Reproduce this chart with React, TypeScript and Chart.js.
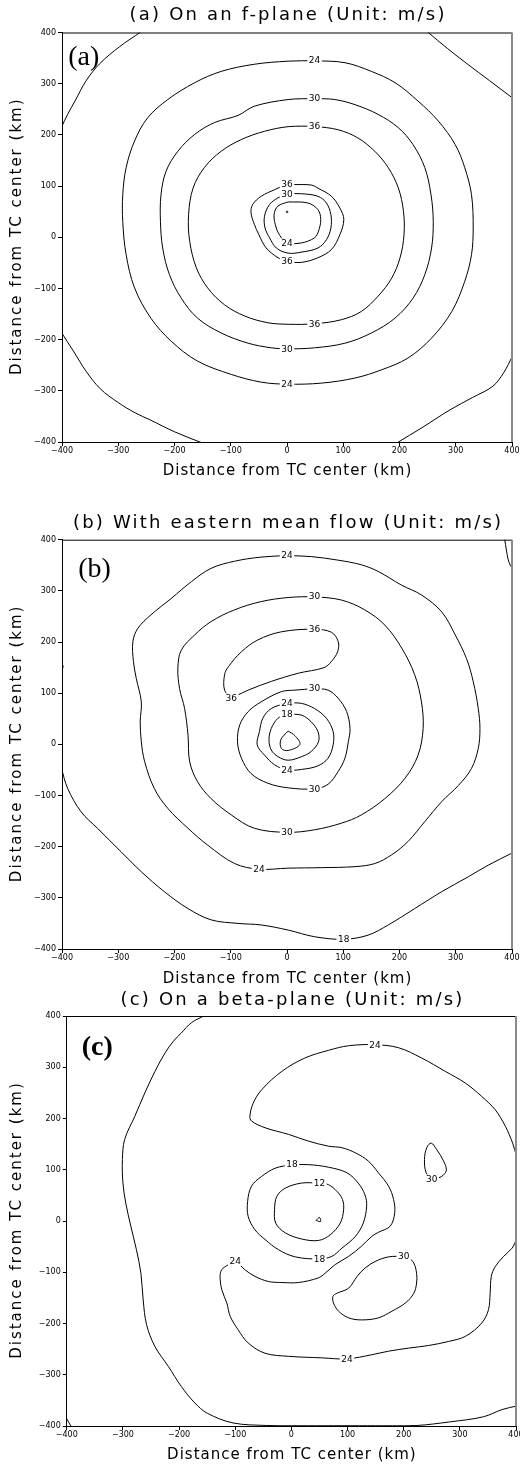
import React, { useEffect, useRef } from 'react';
import { Chart, registerables } from 'chart.js';
Chart.register(...registerables);

type P = [number, number];
type L = [number, number, string];

// ---------- shared text / ticks ----------
const TICKS = [-400, -300, -200, -100, 0, 100, 200, 300, 400];
const AXIS_TITLE = 'Distance from TC center (km)';
const TITLE_A = '(a) On an f-plane (Unit: m/s)';
const TITLE_B = '(b) With eastern mean flow (Unit: m/s)';
const TITLE_C = '(c) On a beta-plane (Unit: m/s)';

// ---------- panel (a) contours (km) ----------
const A_18_TL: P[] = [[-260, 401], [-298, 372], [-333, 339], [-357, 306], [-376, 268], [-390, 240], [-401, 215]];
const A_18_TR: P[] = [[250, 401], [285, 369], [320, 339], [360, 306], [401, 272]];
const A_18_BL: P[] = [[-401, -186], [-380, -222], [-357, -262], [-332, -296], [-300, -323], [-270, -343], [-243, -357], [-200, -380], [-155, -400], [-140, -406]];
const A_18_BR: P[] = [[195, -402], [240, -372], [290, -337], [330, -313], [366, -291], [385, -265], [401, -232]];
const A_24: P[] = [[49, 345], [2, 344], [-58, 338], [-117, 324], [-164, 302], [-212, 269], [-248, 233], [-271, 188], [-286, 136], [-292, 83], [-292, 31], [-286, -34], [-271, -99], [-242, -158], [-206, -203], [-159, -242], [-99, -268], [-46, -283], [0, -287], [61, -285], [121, -275], [168, -259], [215, -236], [257, -197], [293, -145], [316, -86], [328, -34], [331, 18], [328, 83], [316, 136], [299, 181], [269, 227], [233, 266], [192, 302], [150, 324], [103, 341]];
const A_30: P[] = [[49, 271], [2, 269], [-58, 256], [-87, 238], [-129, 224], [-164, 201], [-194, 168], [-215, 129], [-224, 83], [-225, 31], [-221, -21], [-209, -73], [-188, -119], [-159, -158], [-117, -187], [-69, -207], [-28, -216], [0, -218], [49, -216], [103, -207], [150, -187], [192, -158], [224, -119], [245, -73], [257, -21], [260, 31], [256, 83], [245, 136], [224, 181], [198, 214], [162, 240], [121, 259], [85, 269]];
const A_36: P[] = [[49, 217], [2, 216], [-40, 207], [-81, 191], [-117, 168], [-147, 136], [-167, 96], [-175, 44], [-173, -8], [-161, -60], [-141, -99], [-111, -132], [-75, -154], [-34, -167], [2, -170], [49, -169], [97, -161], [132, -145], [162, -115], [186, -80], [201, -40], [208, 5], [207, 51], [198, 96], [180, 136], [156, 168], [126, 194], [91, 210]];
const A_36_IN: P[] = [[0, 104], [14, 103], [43, 102], [55, 96], [79, 80], [94, 57], [101, 35], [94, 5], [79, -24], [55, -40], [26, -49], [0, -47], [-16, -40], [-37, -21], [-50, 5], [-58, 25], [-64, 48], [-61, 64], [-46, 80], [-22, 93]];
const A_30_IN: P[] = [[0, 85], [26, 85], [55, 80], [70, 67], [78, 44], [78, 18], [70, -5], [55, -21], [26, -29], [2, -31], [-19, -21], [-31, -1], [-39, 18], [-40, 41], [-31, 64], [-16, 77]];
const A_24_IN: P[] = [[2, 69], [37, 67], [55, 54], [60, 35], [56, 12], [49, -1], [26, -11], [0, -11], [-10, -1], [-19, 18], [-23, 44], [-16, 61]];
const A_DOT: P[] = [[-1.5, 50], [0.5, 51.5], [1.5, 49], [-0.5, 48]];
const A_LABELS: L[] = [[49, 345, '24'], [0, -287, '24'], [49, 271, '30'], [0, -218, '30'], [49, 217, '36'], [49, -169, '36'], [0, 104, '36'], [0, -47, '36'], [0, 85, '30'], [0, -11, '24']];

// ---------- panel (b) contours (km) ----------
const B_TR: P[] = [[387, 401], [390, 380], [393, 362], [397, 350], [401, 344]];
const B_L: P[] = [[-401, 160], [-398, 152], [-401, 144]];
const B_18: P[] = [[-401, -47], [-390, -86], [-366, -132], [-337, -164], [-295, -210], [-259, -249], [-218, -288], [-176, -321], [-135, -343], [-87, -350], [-46, -353], [2, -363], [49, -376], [101, -381], [144, -373], [180, -353], [227, -321], [275, -288], [322, -259], [358, -236], [401, -212]];
const B_24: P[] = [[0, 369], [-46, 366], [-93, 358], [-135, 344], [-170, 318], [-206, 285], [-242, 253], [-265, 227], [-274, 201], [-273, 162], [-268, 129], [-259, 83], [-261, 44], [-259, 5], [-253, -34], [-236, -86], [-212, -125], [-176, -164], [-141, -197], [-93, -233], [-50, -244], [2, -242], [61, -241], [121, -239], [156, -233], [186, -216], [215, -190], [245, -151], [275, -112], [305, -80], [328, -47], [340, -8], [343, 31], [340, 70], [331, 123], [319, 168], [299, 214], [275, 259], [239, 292], [204, 311], [162, 338], [132, 351], [91, 360], [43, 367]];
const B_30: P[] = [[49, 289], [2, 287], [-46, 279], [-93, 263], [-135, 240], [-164, 214], [-188, 184], [-194, 149], [-191, 109], [-182, 70], [-176, 18], [-173, -34], [-159, -73], [-135, -106], [-99, -138], [-58, -164], [0, -172], [49, -167], [97, -154], [132, -138], [174, -106], [210, -66], [233, -21], [242, 31], [239, 83], [227, 136], [204, 188], [174, 233], [138, 263], [97, 282]];
const B_36: P[] = [[-99, 91], [-111, 106], [-111, 136], [-104, 152], [-81, 181], [-52, 204], [-10, 220], [49, 225], [79, 219], [91, 201], [90, 181], [79, 162], [66, 150], [20, 139], [-28, 123], [-69, 106], [-90, 95]];
const B_30_IN: P[] = [[49, 109], [14, 106], [-10, 103], [-46, 83], [-69, 64], [-84, 38], [-88, 5], [-81, -27], [-64, -57], [-34, -76], [2, -85], [49, -87], [73, -78], [91, -53], [103, -27], [109, 5], [112, 31], [106, 64], [91, 90], [73, 106]];
const B_24_IN: P[] = [[0, 81], [26, 80], [49, 70], [70, 51], [82, 25], [82, -1], [73, -27], [55, -42], [26, -49], [0, -50], [-22, -40], [-40, -21], [-53, -1], [-49, 25], [-43, 51], [-28, 70]];
const B_18_IN: P[] = [[0, 59], [26, 57], [43, 44], [55, 25], [56, 5], [43, -14], [26, -24], [2, -31], [-16, -24], [-28, -11], [-32, 9], [-28, 31], [-16, 51]];
const B_12_IN: P[] = [[2, 26], [14, 17], [23, 0], [2, -12], [-10, -8], [-11, 9]];
const B_LABELS: L[] = [[0, 369, '24'], [-50, -244, '24'], [49, 289, '30'], [0, -172, '30'], [49, 225, '36'], [-99, 91, '36'], [49, 109, '30'], [49, -87, '30'], [0, 81, '24'], [0, -50, '24'], [0, 59, '18'], [101, -381, '18']];

// ---------- panel (c) contours (km) ----------
const C_OUT: P[] = [[-154, 401], [-178, 387], [-196, 367], [-210, 351], [-225, 328], [-243, 292], [-261, 250], [-279, 204], [-297, 159], [-301, 120], [-300, 74], [-295, 35], [-286, -10], [-276, -56], [-268, -102], [-264, -154], [-258, -202], [-243, -245], [-219, -284], [-196, -323], [-172, -355], [-150, -375], [-104, -394], [-44, -399], [0, -399.5], [60, -399.5], [120, -399.5], [180, -399.5], [224, -399], [282, -392], [342, -382], [375, -368], [401, -361]];
const C_BL: P[] = [[-401, -384], [-396, -394], [-392, -401]];
const C_24: P[] = [[401, 126], [394, 152], [381, 185], [363, 217], [339, 243], [310, 269], [274, 292], [232, 318], [191, 338], [149, 344], [102, 342], [66, 333], [24, 318], [-17, 292], [-53, 256], [-68, 230], [-74, 204], [-71, 195], [-47, 182], [-5, 169], [30, 156], [66, 146], [90, 143], [114, 133], [137, 117], [155, 94], [173, 68], [182, 42], [184, 16], [176, -10], [155, -22], [143, -30], [125, -49], [102, -69], [78, -85], [60, -102], [48, -111], [13, -120], [-17, -120], [-41, -118], [-65, -108], [-83, -95], [-100, -79], [-112, -85], [-124, -95], [-127, -108], [-124, -134], [-115, -160], [-109, -186], [-95, -212], [-77, -238], [-47, -258], [-5, -264], [54, -267], [99, -269], [143, -261], [173, -254], [209, -248], [244, -243], [280, -235], [310, -225], [339, -199], [351, -173], [354, -141], [356, -108], [363, -89], [378, -69], [393, -53], [401, -36]];
const C_18: P[] = [[1, 110], [-29, 103], [-53, 87], [-71, 68], [-78, 38], [-77, 9], [-65, -17], [-47, -36], [-23, -56], [7, -70], [50, -74], [72, -69], [90, -53], [114, -30], [128, -4], [134, 29], [131, 51], [119, 74], [99, 94], [66, 105], [30, 110]];
const C_12: P[] = [[50, 74], [18, 74], [-11, 64], [-26, 48], [-30, 22], [-28, -4], [-11, -23], [18, -35], [48, -38], [69, -27], [87, -4], [93, 22], [91, 42], [81, 58], [66, 71]];
const C_TRI: P[] = [[44, 1], [50, 7], [52, -1]];
const C_30A: P[] = [[250, 82], [240, 94], [237, 120], [241, 143], [249, 152], [259, 139], [271, 117], [276, 100], [271, 90], [262, 84]];
const C_30B: P[] = [[200, -69], [173, -70], [149, -79], [131, -92], [117, -108], [102, -131], [81, -141], [74, -147], [75, -160], [84, -176], [102, -189], [125, -193], [155, -189], [179, -176], [203, -160], [218, -141], [223, -121], [223, -102], [218, -82], [209, -72]];
const C_LABELS: L[] = [[149, 344, '24'], [-100, -79, '24'], [99, -269, '24'], [1, 110, '18'], [50, -74, '18'], [50, 74, '12'], [250, 82, '30'], [200, -69, '30']];

interface Contour { pts: P[]; closed: boolean }
interface PanelCfg {
  title: string; letter: string; letterBold: boolean;
  contours: Contour[]; labels: L[];
  top: number; h: number; padTop: number; padRight: number; yW: number; xH: number;
  titleY: number; xTitleY: number; ldx: number; ldy: number;
}

const open = (pts: P[]): Contour => ({ pts, closed: false });
const loop = (pts: P[]): Contour => ({ pts, closed: true });

const PANELS: PanelCfg[] = [
  {
    title: TITLE_A, letter: '(a)', letterBold: false,
    contours: [open(A_18_TL), open(A_18_TR), open(A_18_BL), open(A_18_BR), loop(A_24), loop(A_30), loop(A_36), loop(A_36_IN), loop(A_30_IN), loop(A_24_IN), loop(A_DOT)],
    labels: A_LABELS,
    top: 0, h: 490, padTop: 32.5, padRight: 8, yW: 62, xH: 48, titleY: 15, xTitleY: 471, ldx: 6.3, ldy: 32.1,
  },
  {
    title: TITLE_B, letter: '(b)', letterBold: false,
    contours: [open(B_TR), open(B_L), open(B_18), loop(B_24), loop(B_30), loop(B_36), loop(B_30_IN), loop(B_24_IN), loop(B_18_IN), loop(B_12_IN)],
    labels: B_LABELS,
    top: 490, h: 496, padTop: 49.7, padRight: 8, yW: 62, xH: 37, titleY: 33, xTitleY: 489, ldx: 16.3, ldy: 36.9,
  },
  {
    title: TITLE_C, letter: '(c)', letterBold: true,
    contours: [open(C_OUT), open(C_BL), open(C_24), loop(C_18), loop(C_12), loop(C_TRI), loop(C_30A), loop(C_30B)],
    labels: C_LABELS,
    top: 986, h: 479, padTop: 30, padRight: 4, yW: 66.8, xH: 39, titleY: 14, xTitleY: 469, ldx: 14.9, ldy: 38.9,
  },
];

const FONT = '"DejaVu Sans", sans-serif';
const fmt = (v: number | string) => {
  const n = Number(v);
  return n < 0 ? '\u2212' + Math.abs(n) : String(n);
};

function makeDecor(cfg: PanelCfg) {
  return {
    id: 'decor',
    afterDatasetsDraw(chart: any) {
      const { ctx, chartArea: a, scales } = chart;
      const xs = scales.x, ys = scales.y;
      ctx.save();
      ctx.font = `9px ${FONT}`;
      ctx.textAlign = 'center';
      ctx.textBaseline = 'middle';
      for (const [lx, ly, t] of cfg.labels) {
        const px = xs.getPixelForValue(lx);
        const py = ys.getPixelForValue(ly);
        const w = ctx.measureText(t).width;
        ctx.fillStyle = '#fff';
        ctx.fillRect(px - w / 2 - 1.5, py - 4.5, w + 3, 9);
        ctx.fillStyle = '#000';
        ctx.fillText(t, px, py + 0.5);
      }
      // frame: top black, right grey
      ctx.strokeStyle = '#000';
      ctx.lineWidth = 1;
      ctx.beginPath();
      ctx.moveTo(a.left, a.top + 0.5);
      ctx.lineTo(a.right, a.top + 0.5);
      ctx.stroke();
      ctx.strokeStyle = '#8a8a8a';
      ctx.lineWidth = 2;
      ctx.beginPath();
      ctx.moveTo(a.right, a.top);
      ctx.lineTo(a.right, a.bottom);
      ctx.stroke();
      ctx.restore();
    },
    afterDraw(chart: any) {
      const { ctx, chartArea: a } = chart;
      const cx = (a.left + a.right) / 2;
      const cy = (a.top + a.bottom) / 2;
      ctx.save();
      ctx.fillStyle = '#000';
      ctx.textAlign = 'center';
      ctx.textBaseline = 'middle';
      (ctx as any).letterSpacing = '2.2px';
      ctx.font = `18px ${FONT}`;
      ctx.fillText(cfg.title, cx + 1.1, cfg.titleY);
      (ctx as any).letterSpacing = '1px';
      ctx.font = `15px ${FONT}`;
      ctx.fillText(AXIS_TITLE, cx + 0.5, cfg.xTitleY);
      (ctx as any).letterSpacing = '2px';
      ctx.save();
      ctx.translate(17, cy);
      ctx.rotate(-Math.PI / 2);
      ctx.fillText(AXIS_TITLE, 1, 0);
      ctx.restore();
      (ctx as any).letterSpacing = '0px';
      ctx.textAlign = 'left';
      ctx.textBaseline = 'alphabetic';
      ctx.font = `${cfg.letterBold ? 'bold ' : ''}28px "Liberation Serif", serif`;
      ctx.fillText(cfg.letter, a.left + cfg.ldx, a.top + cfg.ldy);
      ctx.restore();
    },
  };
}

function Panel({ cfg }: { cfg: PanelCfg }) {
  const ref = useRef<HTMLCanvasElement>(null);
  useEffect(() => {
    const axisCommon = (isX: boolean) => ({
      type: 'linear' as const,
      min: -400,
      max: 400,
      position: isX ? 'bottom' : 'left',
      afterBuildTicks: (s: any) => { s.ticks = TICKS.map((v) => ({ value: v })); },
      afterFit: (s: any) => {
        if (isX) s.height = cfg.xH; else s.width = cfg.yW;
        s.paddingLeft = 0; s.paddingRight = 0; s.paddingTop = 0; s.paddingBottom = 0;
      },
      ticks: {
        color: '#000',
        font: { family: FONT, size: 8 },
        padding: isX ? 0 : 2,
        maxRotation: 0,
        autoSkip: false,
        callback: (v: any) => fmt(v),
      },
      grid: { display: true, drawOnChartArea: false, drawTicks: true, tickLength: 4, color: '#000', lineWidth: 1 },
      border: { display: true, color: '#000', width: 1 },
    });
    const chart = new Chart(ref.current!, {
      type: 'scatter',
      data: {
        datasets: cfg.contours.map((c) => ({
          data: (c.closed ? [...c.pts, c.pts[0]] : c.pts).map(([x, y]) => ({ x, y })),
          showLine: true,
          borderColor: '#000',
          borderWidth: 1,
          pointRadius: 0,
          pointHoverRadius: 0,
          tension: 0.35,
          fill: false,
        })),
      },
      options: {
        responsive: false,
        animation: false,
        events: [],
        layout: { padding: { top: cfg.padTop, right: cfg.padRight, left: 0, bottom: 0 }, autoPadding: false } as any,
        plugins: { legend: { display: false }, tooltip: { enabled: false }, title: { display: false } },
        scales: { x: axisCommon(true) as any, y: axisCommon(false) as any },
      },
      plugins: [makeDecor(cfg)],
    });
    return () => chart.destroy();
  }, [cfg]);
  return (
    <canvas
      ref={ref}
      width={520}
      height={cfg.h}
      style={{ position: 'absolute', left: 0, top: cfg.top, display: 'block' }}
    />
  );
}

export default function App() {
  return (
    <div style={{ position: 'absolute', left: 0, top: 0, width: 520, height: 1465, background: '#fff' }}>
      {PANELS.map((p, i) => <Panel key={i} cfg={p} />)}
    </div>
  );
}
